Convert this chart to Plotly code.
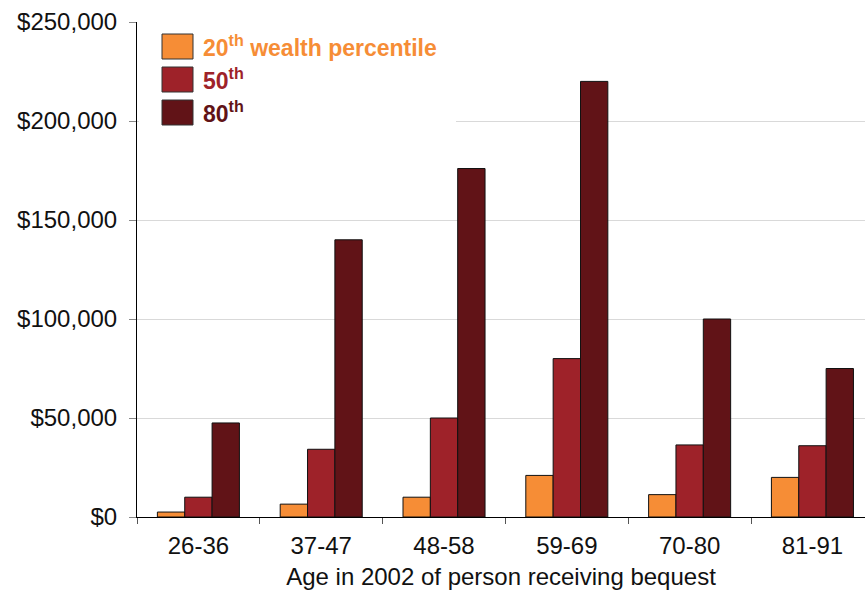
import plotly.graph_objects as go

categories = ["26-36", "37-47", "48-58", "59-69", "70-80", "81-91"]
p20 = [2500, 6500, 10000, 21000, 11300, 20000]
p50 = [10000, 34200, 50000, 80000, 36400, 36000]
p80 = [47500, 140000, 176000, 220000, 100000, 75000]
series_values = [p20, p50, p80]
series_labels = ["20<sup>th</sup> wealth percentile", "50<sup>th</sup>", "80<sup>th</sup>"]
colors = ["#F68D36", "#9E2229", "#611317"]
y_ticks = [0, 50000, 100000, 150000, 200000, 250000]
y_ticktext = ["$" + f"{v:,}" for v in y_ticks]
x_title = "Age in 2002 of person receiving bequest"

W, H = 865, 590
ML, MT, MB = 137, 22, 73
PW = 728
PH = H - MT - MB

FONT = "Liberation Sans, Arial, sans-serif"
FS = 24


def px2x(px):
    return (px - ML) / PW


def px2y(py):
    return (H - MB - py) / PH


fig = go.Figure()
for vals, lab, col in zip(series_values, series_labels, colors):
    fig.add_trace(go.Bar(
        x=categories, y=vals, name=lab,
        marker=dict(color=col, line=dict(color="#111111", width=1)),
        showlegend=False,
    ))

shapes = [
    dict(type="rect", xref="paper", yref="paper",
         x0=px2x(139), x1=px2x(456), y0=px2y(129), y1=1.03,
         fillcolor="white", line=dict(width=0), layer="above"),
]
annotations = []
for i, (lab, col) in enumerate(zip(series_labels, colors)):
    top = 34 + 33 * i
    shapes.append(dict(type="rect", xref="paper", yref="paper",
                       x0=px2x(162), x1=px2x(193), y0=px2y(top + 25), y1=px2y(top),
                       fillcolor=col, line=dict(color="#333333", width=1), layer="above"))
    annotations.append(dict(xref="paper", yref="paper", x=px2x(201), y=px2y(top + 12.5),
                            xanchor="left", yanchor="middle", showarrow=False,
                            text="<b>" + lab + "</b>",
                            font=dict(family=FONT, size=23, color=col)))

fig.update_layout(
    width=W, height=H,
    margin=dict(l=ML, r=0, t=MT, b=MB, autoexpand=False),
    paper_bgcolor="white", plot_bgcolor="white",
    barmode="group", bargap=0.332, bargroupgap=0,
    shapes=shapes, annotations=annotations,
    font=dict(family=FONT, size=FS, color="#111111"),
    xaxis=dict(
        type="category", range=[-0.5, 5.428], tickson="boundaries",
        ticks="outside", ticklen=6, tickcolor="#555555",
        showline=True, linecolor="black", linewidth=1,
        showgrid=False, tickfont=dict(family=FONT, size=FS, color="#111111"),
        ticklabelstandoff=7,
        title=dict(text=x_title, standoff=15, font=dict(family=FONT, size=FS, color="#111111")),
        automargin=False, fixedrange=True,
    ),
    yaxis=dict(
        range=[0, 250000], tickmode="array", tickvals=y_ticks, ticktext=y_ticktext,
        ticks="outside", ticklen=7, tickcolor="#888888",
        showline=True, linecolor="black", linewidth=1,
        showgrid=True, gridcolor="#D9D9D9", gridwidth=1, zeroline=False,
        tickfont=dict(family=FONT, size=FS, color="#111111"),
        ticklabelstandoff=7, automargin=False, fixedrange=True,
    ),
)

fig.write_html("out.html", config={"displayModeBar": False},
               post_script="document.body.style.margin='0';document.body.style.padding='0';")
